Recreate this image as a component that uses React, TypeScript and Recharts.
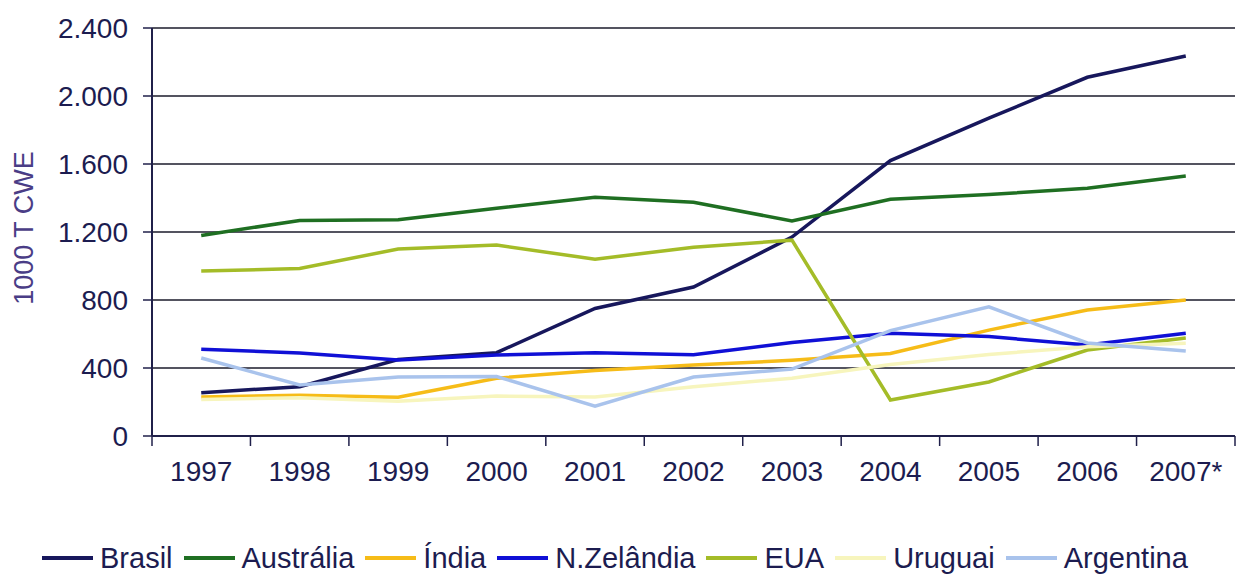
import { LineChart, Line, XAxis, YAxis, CartesianGrid, Legend, Label } from 'recharts'

const years = ['1997', '1998', '1999', '2000', '2001', '2002', '2003', '2004', '2005', '2006', '2007*']

const brasil = [255, 290, 450, 490, 750, 876, 1170, 1620, 1870, 2110, 2235]
const australia = [1180, 1268, 1272, 1340, 1405, 1375, 1265, 1393, 1420, 1458, 1529]
const india = [230, 240, 228, 340, 385, 417, 445, 485, 623, 741, 800]
const novaZelandia = [511, 488, 447, 476, 490, 478, 550, 605, 585, 535, 605]
const eua = [970, 985, 1100, 1123, 1040, 1110, 1152, 212, 318, 506, 576]
const uruguai = [215, 225, 205, 235, 230, 290, 340, 420, 480, 525, 545]
const argentina = [459, 300, 347, 350, 176, 347, 394, 620, 760, 547, 500]

const yTicks = [0, 400, 800, 1200, 1600, 2000, 2400]

const series = [
  { name: 'Brasil', values: brasil, color: '#17175c' },
  { name: 'Austrália', values: australia, color: '#1f6f22' },
  { name: 'Índia', values: india, color: '#f6bc18' },
  { name: 'N.Zelândia', values: novaZelandia, color: '#1010d6' },
  { name: 'EUA', values: eua, color: '#a4bc28' },
  { name: 'Uruguai', values: uruguai, color: '#f7f5bd' },
  { name: 'Argentina', values: argentina, color: '#a9c3ec' },
]

const data = years.map((year, i) => {
  const row: Record<string, number | string> = { x: i, year }
  series.forEach(s => { row[s.name] = s.values[i] })
  return row
})

// tick marks sit between the years, labels in the middle of each band
const bandEdges = [...years.map((_, i) => i - 0.5), years.length - 0.5]
const bandMids = years.map((_, i) => i)

const ink = '#1c1c50'
const font = '"Liberation Sans", Arial, sans-serif'

const fmt = (v: number) => String(v).replace(/\B(?=(\d{3})+(?!\d))/g, '.')

function LegendRow() {
  return (
    <div style={{
      display: 'flex', alignItems: 'center', height: 40, paddingLeft: 42,
      fontFamily: font, fontSize: 29, color: ink, whiteSpace: 'nowrap',
    }}>
      {series.map(s => (
        <div key={s.name} style={{ display: 'flex', alignItems: 'center', marginRight: 11 }}>
          <span style={{ display: 'inline-block', width: 51, height: 4, background: s.color, marginRight: 7 }} />
          <span>{s.name}</span>
        </div>
      ))}
    </div>
  )
}

function YTitle({ viewBox }: any) {
  const cx = viewBox.x + 24
  const cy = viewBox.y + viewBox.height / 2 - 4
  return (
    <text
      x={cx} y={cy} transform={`rotate(-90, ${cx}, ${cy})`}
      textAnchor="middle" dominantBaseline="central"
      fontFamily={font} fontSize={27} fill="#4a3d86"
    >
      1000 T CWE
    </text>
  )
}

export default function App() {
  return (
    <div style={{ position: 'absolute', left: 0, top: 0, width: 1238, height: 578, background: '#fff' }}>
      <LineChart width={1238} height={578} data={data} margin={{ top: 28, right: 3, left: 0, bottom: 0 }}>
        <CartesianGrid vertical={false} stroke="#1b1b2b" strokeWidth={1.5} />
        <XAxis
          dataKey="x" type="number" domain={[-0.5, years.length - 0.5]} allowDataOverflow
          ticks={bandEdges} interval={0} height={10} tickSize={10}
          tickFormatter={() => ''}
          axisLine={{ stroke: '#20204a', strokeWidth: 2 }}
          tickLine={{ stroke: '#20204a', strokeWidth: 1.5 }}
        />
        <XAxis
          xAxisId="lbl" dataKey="x" type="number" domain={[-0.5, years.length - 0.5]} allowDataOverflow
          ticks={bandMids} interval={0} height={92} tickSize={0} tickMargin={15}
          tickFormatter={(v: number) => years[v]}
          axisLine={false} tickLine={false}
          tick={{ fill: ink, fontSize: 28, fontFamily: font }}
        />
        <YAxis
          width={152} domain={[0, 2400]} ticks={yTicks} interval={0}
          tickFormatter={fmt} tickSize={9} tickMargin={15}
          axisLine={{ stroke: '#20204a', strokeWidth: 2 }}
          tickLine={{ stroke: '#20204a', strokeWidth: 1.5 }}
          tick={{ fill: ink, fontSize: 28, fontFamily: font }}
        >
          <Label content={YTitle} />
        </YAxis>
        <Legend verticalAlign="bottom" height={40} content={LegendRow} />
        {series.map(s => (
          <Line
            key={s.name} dataKey={s.name} name={s.name} stroke={s.color} strokeWidth={3.5}
            dot={false} activeDot={false} type="linear" isAnimationActive={false}
          />
        ))}
      </LineChart>
    </div>
  )
}
